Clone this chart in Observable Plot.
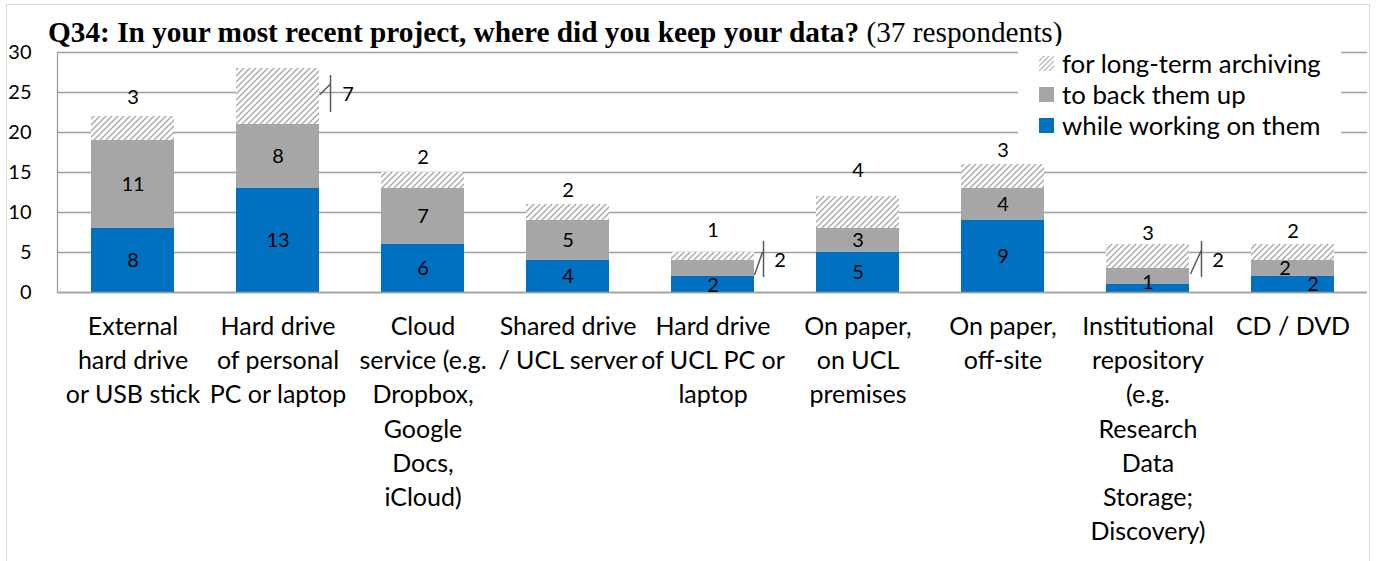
<!DOCTYPE html>
<html>
<head>
<meta charset="utf-8">
<script src="https://cdn.jsdelivr.net/npm/d3@7"></script>
<script src="https://cdn.jsdelivr.net/npm/@observablehq/plot@0.6"></script>
<style>
  body { margin: 0; background: #fff; width: 1376px; height: 561px; overflow: hidden; position: relative; }
  #frame { position: absolute; left: 6px; top: 4px; width: 1362px; height: 620px; border: 1px solid #d9d9d9; }
  #chart { position: absolute; left: 0; top: 0; }
  #title { position: absolute; left: 48px; top: 18px; font-family: "Liberation Serif", serif; font-size: 29.3px; line-height: 29px; white-space: nowrap; color: #000; }
  #legend { position: absolute; left: 1018px; top: 46px; width: 323px; height: 94px; background: #fff; font-family: Lato, sans-serif; font-size: 25.8px; color: #000; }
  .item { position: absolute; left: 21px; height: 30px; display: flex; align-items: center; white-space: nowrap; }
  .sw { width: 15px; height: 15px; margin-right: 8px; flex: none; }
</style>
</head>
<body>
<div id="frame"></div>
<div id="chart"></div>
<div id="title"><b>Q34: In your most recent project, where did you keep your data?</b> (37 respondents)</div>
<div id="legend"></div>
<script>
// ---------- data ----------
const categories = [
  "External\nhard drive\nor USB stick",
  "Hard drive\nof personal\nPC or laptop",
  "Cloud\nservice (e.g.\nDropbox,\nGoogle\nDocs,\niCloud)",
  "Shared drive\n/ UCL server",
  "Hard drive\nof UCL PC or\nlaptop",
  "On paper,\non UCL\npremises",
  "On paper,\noff-site",
  "Institutional\nrepository\n(e.g.\nResearch\nData\nStorage;\nDiscovery)",
  "CD / DVD"
];
const seriesNames = ["while working on them", "to back them up", "for long-term archiving"];
const working   = [8, 13, 6, 4, 2, 5, 9, 1, 2];
const backup    = [11, 8, 7, 5, 2, 3, 4, 2, 2];
const archiving = [3, 7, 2, 2, 1, 4, 3, 3, 2];
const yTicks = [0, 5, 10, 15, 20, 25, 30];

// ---------- layout (label offsets in px) ----------
const workDx = [0, 0, 0, 0, 0, 0, 0, 0, 20];
const workDy = [0, 0, 0, 0, 1, 0, 0, -6, 0];
const backDx = [0, 0, 0, 0, 67, 0, 0, 70, -8];
const backDy = [0, 0, 0, 0, -8, 0, 0, -16, 0];
const archDx = [0, 70, 0, 0, 0, 0, 0, 0, 0];
const archDy = [-19, 26, -15, -14, -22, -26, -14, -11, -13];
// leader lines relative to bar centre / label y: diagonal (x0,y0,x1,y1), vertical (x, y0, y1)
const leaderLayout = [
  {i: 1, s: 2, diag: [42, 1, 53, -10], vert: [53, -19, 18]},
  {i: 4, s: 1, diag: [42, 15, 50, -8], vert: [51, -19, 17]},
  {i: 7, s: 1, diag: [43, 14, 54, -10], vert: [54, -19, 17]}
];

const colors = ["#0070c0", "#a6a6a6", "url(#hatch)"];

// ---------- derived tables ----------
const rows = categories.flatMap((c, i) => [
  {cat: c, series: seriesNames[0], value: working[i]},
  {cat: c, series: seriesNames[1], value: backup[i]},
  {cat: c, series: seriesNames[2], value: archiving[i]}
]);

const labels = categories.flatMap((c, i) => {
  const w = working[i], b = backup[i], a = archiving[i];
  return [
    {cat: c, s: 0, y: w / 2, text: String(w), dx: workDx[i], dy: workDy[i]},
    {cat: c, s: 1, y: w + b / 2, text: String(b), dx: backDx[i], dy: backDy[i]},
    {cat: c, s: 2, y: w + b + a, text: String(a), dx: archDx[i], dy: archDy[i]}
  ];
});

const leaders = leaderLayout.map(L => {
  const lab = labels.find(d => d.cat === categories[L.i] && d.s === L.s);
  return {...L, cat: lab.cat, y: lab.y, dy: lab.dy};
});

// ---------- chart ----------
const defsMark = () => {
  const defs = d3.create("svg:defs");
  const p = defs.append("pattern").attr("id", "hatch").attr("patternUnits", "userSpaceOnUse")
    .attr("width", 6).attr("height", 6);
  p.append("rect").attr("width", 6).attr("height", 6).attr("fill", "#fff");
  p.append("path").attr("d", "M-1,1L1,-1M0,6L6,0M5,7L7,5")
    .attr("stroke", "#a6a6a6").attr("stroke-width", 1.3);
  return defs.node();
};

const leaderMark = (index, scales) => {
  const g = d3.create("svg:g").attr("fill", "none").attr("stroke", "#595959").attr("stroke-width", 1.5);
  const xs = scales.x;
  const bw = typeof xs.bandwidth === "function" ? xs.bandwidth() : scales.scales.x.bandwidth;
  for (const L of leaders) {
    const cx = xs(L.cat) + bw / 2;
    const cy = scales.y(L.y) + L.dy;
    g.append("path").attr("d",
      `M${cx + L.diag[0]},${cy + L.diag[1]}L${cx + L.diag[2]},${cy + L.diag[3]}` +
      `M${cx + L.vert[0]},${cy + L.vert[1]}V${cy + L.vert[2]}`);
  }
  return g.node();
};

const labelMarks = labels.map(l =>
  Plot.text([l], {x: "cat", y: "y", text: "text", dx: l.dx, dy: l.dy, fontSize: 20, fill: "#000"})
);

const chart = Plot.plot({
  width: 1376,
  height: 561,
  marginTop: 52,
  marginBottom: 269,
  marginLeft: 57,
  marginRight: 9,
  style: {fontFamily: "Lato, sans-serif", color: "#000", background: "transparent", overflow: "visible"},
  x: {domain: categories, paddingInner: 0.43, paddingOuter: 0.215, label: null},
  y: {domain: [0, 30], label: null},
  color: {domain: seriesNames, range: colors},
  marks: [
    defsMark,
    Plot.gridY(yTicks, {stroke: "#a0a0a0", strokeOpacity: 1, strokeWidth: 1.3}),
    Plot.barY(rows, {x: "cat", y: "value", fill: "series"}),
    Plot.frame({anchor: "left", stroke: "#a0a0a0", strokeWidth: 1.3}),
    Plot.ruleY([0], {stroke: "#a0a0a0", strokeWidth: 1.3}),
    Plot.axisY({ticks: yTicks, tickSize: 0, tickPadding: 26, fontSize: 20, label: null}),
    Plot.axisX({tickSize: 0, tickPadding: 18, fontSize: 25, lineHeight: 1.37, label: null}),
    ...labelMarks,
    leaderMark
  ]
});
document.getElementById("chart").appendChild(chart);

// ---------- legend ----------
const legend = d3.select("#legend");
const legendOrder = [2, 1, 0];
const legendTops = [0, 31, 62];
legendOrder.forEach((s, k) => {
  const it = legend.append("div").attr("class", "item").style("top", (legendTops[k] + 2) + "px");
  const sw = it.append("svg").attr("class", "sw").attr("width", 15).attr("height", 15);
  if (s === 2) {
    const d = sw.append("defs").append("pattern").attr("id", "hatchL").attr("patternUnits", "userSpaceOnUse").attr("width", 5).attr("height", 5);
    d.append("path").attr("d", "M-1,1L1,-1M0,5L5,0M4,6L6,4").attr("stroke", "#b0b0b0").attr("stroke-width", 1.2);
    sw.append("rect").attr("width", 15).attr("height", 15).attr("fill", "url(#hatchL)");
  } else {
    sw.append("rect").attr("width", 15).attr("height", 15).attr("fill", colors[s]);
  }
  it.append("span").text(seriesNames[s]);
});
</script>
</body>
</html>
